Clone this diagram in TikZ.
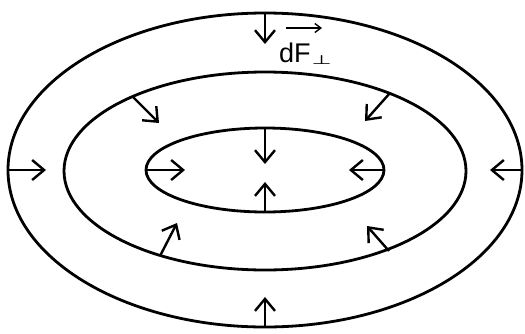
\documentclass[tikz,border=0pt]{standalone}
\usepackage{fontspec}
\usepackage{graphicx}
\setmainfont{Liberation Sans}
\newfontfamily\symfont{DejaVu Sans}
\usetikzlibrary{arrows.meta}
\tikzset{
  ring/.style={line width=2.8pt},
  force/.style={line width=2.4pt, -{Straight Barb[length=12pt,width=20pt,line width=2.4pt]}},
  vecarrow/.style={line width=1.4pt, -{Straight Barb[length=6pt,width=9pt,line width=1.4pt]}},
}
\begin{document}
\begin{tikzpicture}[x=1pt,y=-1pt]
\useasboundingbox (0,0) rectangle (525,333);
\draw[ring] (265,170) ellipse [x radius=257, y radius=157];
\draw[ring] (265,171) ellipse [x radius=201, y radius=99];
\draw[ring] (265,170) ellipse [x radius=119, y radius=42];
% outer ring points
\coordinate (ot) at (265,13);  \coordinate (ott) at (265,44);
\coordinate (ob) at (265,327); \coordinate (obt) at (265,297);
\coordinate (ol) at (8,170);   \coordinate (olt) at (46,170);
\coordinate (or) at (522,170); \coordinate (ort) at (490,170);
% middle ring points
\coordinate (mtl) at (133,97);  \coordinate (mtlt) at (159,123);
\coordinate (mtr) at (390,93);  \coordinate (mtrt) at (365,121);
\coordinate (mbl) at (160,256); \coordinate (mblt) at (177,223);
\coordinate (mbr) at (389,251); \coordinate (mbrt) at (367,226);
% inner ring points
\coordinate (it) at (265,128);  \coordinate (itt) at (265,164);
\coordinate (ib) at (265,212);  \coordinate (ibt) at (265,182);
\coordinate (il) at (146,170);  \coordinate (ilt) at (185,170);
\coordinate (ir) at (384,170);  \coordinate (irt) at (349,170);
\foreach \a in {ot,ob,ol,or,mtl,mtr,mbl,mbr,it,ib,il,ir}
  \draw[force] (\a) -- (\a t);
% label dF with perpendicular sign and vector arrow
\node[anchor=base west, inner sep=0pt, font=\fontsize{27}{27}\selectfont] (lbl) at (279,62)
  {dF\kern1pt\raisebox{-2pt}{\scalebox{1.1}[0.6]{\symfont\fontsize{21}{21}\selectfont ⊥}}};
\coordinate (va) at (286,28);
\coordinate (vb) at (322,28);
\draw[vecarrow] (va) -- (vb);
\end{tikzpicture}
\end{document}
